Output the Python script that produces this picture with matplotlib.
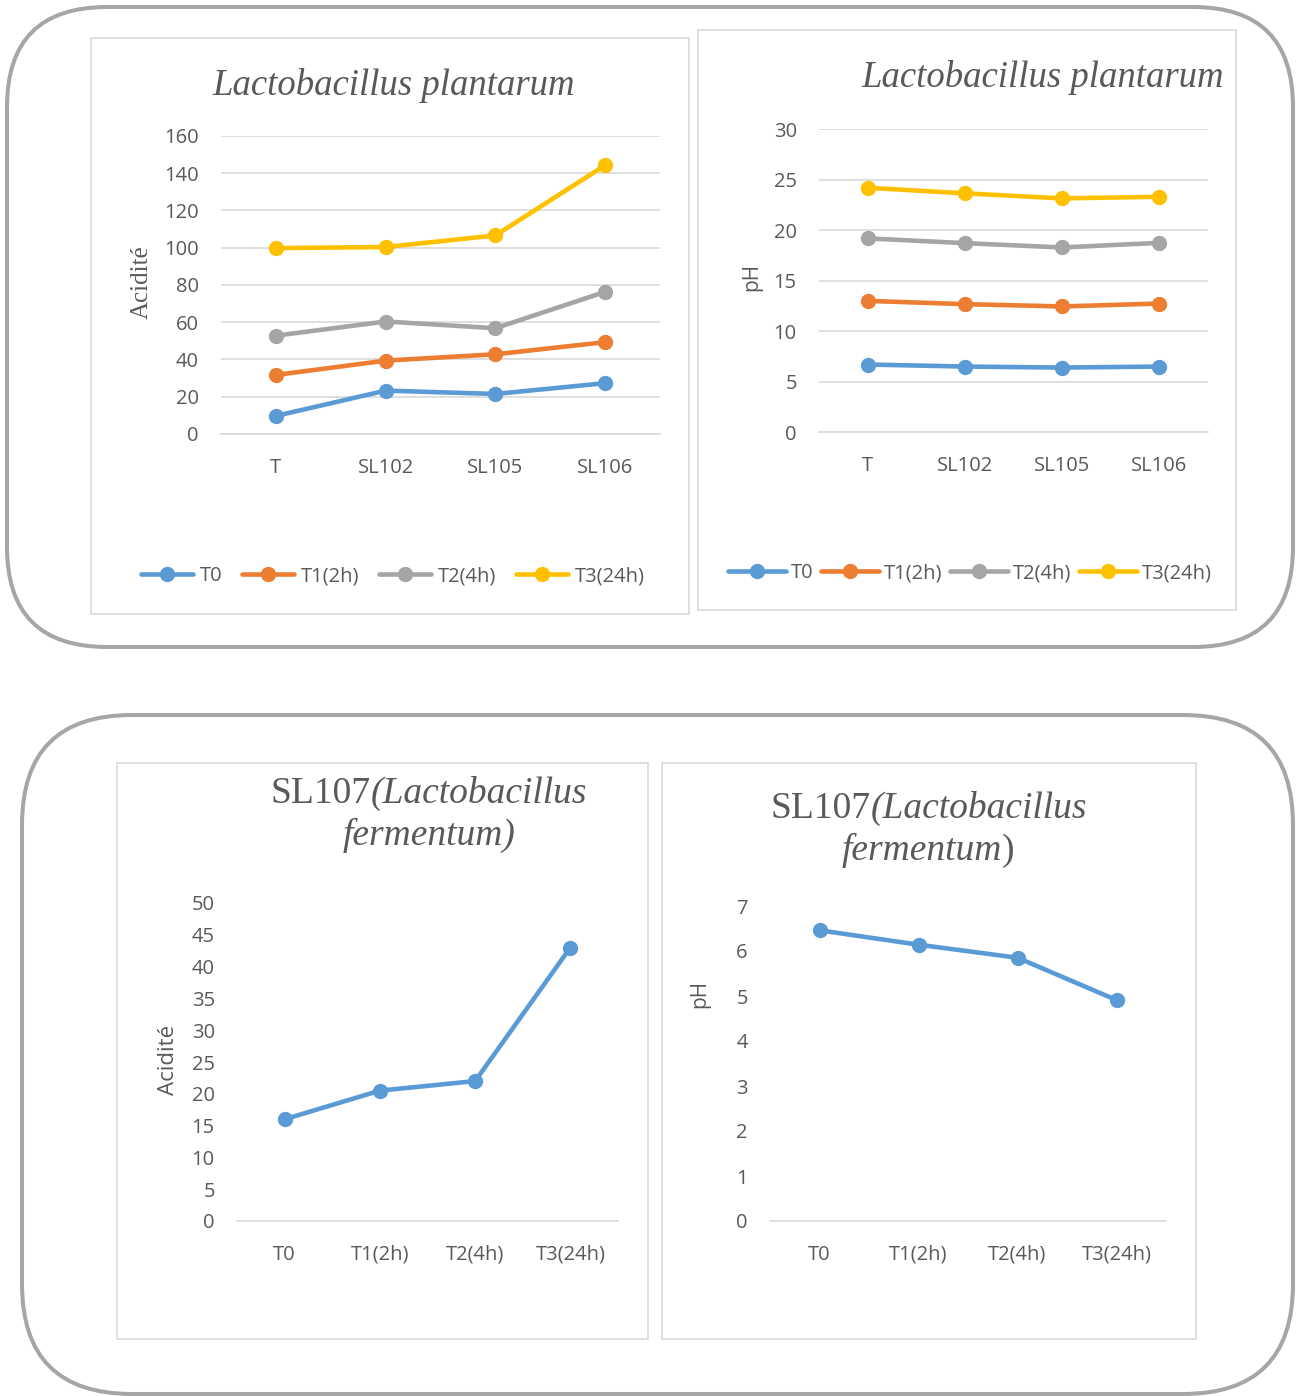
import numpy as np
import matplotlib
matplotlib.use('Agg')
import matplotlib.pyplot as plt
from matplotlib.patches import FancyBboxPatch, Rectangle

plt.rcParams['font.family'] = ['Open Sans', 'DejaVu Sans']

# data
strains = ['T', 'SL102', 'SL105', 'SL106']
series_names = ['T0', 'T1(2h)', 'T2(4h)', 'T3(24h)']
acid_T0 = [9.7, 23.3, 21.5, 27.3]
acid_T1 = [31.7, 39.4, 42.8, 49.3]
acid_T2 = [52.8, 60.4, 56.8, 76.3]
acid_T3 = [99.8, 100.4, 106.6, 144.3]
ph_T0 = [6.68, 6.48, 6.38, 6.48]
ph_T1 = [12.98, 12.66, 12.43, 12.72]
ph_T2 = [19.17, 18.70, 18.27, 18.73]
ph_T3 = [24.18, 23.63, 23.13, 23.29]

times = ['T0', 'T1(2h)', 'T2(4h)', 'T3(24h)']
sl107_acid = [16.0, 20.5, 22.0, 43.0]
sl107_ph = [6.46, 6.14, 5.85, 4.91]

colors = ['#5B9BD5', '#ED7D31', '#A5A5A5', '#FFC000']
TXT = '#595959'
GRID = '#D9D9D9'
TICK_FS = 14.5

W, H = 1298, 1396
fig = plt.figure(figsize=(W / 100, H / 100), dpi=100)
renderer = fig.canvas.get_renderer()

# background layer in pixel coords for the boxes and chart frames
bg = fig.add_axes([0, 0, 1, 1], zorder=0)
bg.set_xlim(0, W)
bg.set_ylim(H, 0)
bg.axis('off')
bg.add_patch(FancyBboxPatch((7, 7), 1286, 640, boxstyle='round,pad=0,rounding_size=100',
                            fc='none', ec='#A6A6A6', lw=2.9))
bg.add_patch(FancyBboxPatch((22, 715), 1271, 679, boxstyle='round,pad=0,rounding_size=110',
                            fc='none', ec='#A6A6A6', lw=2.9))
for (x0, y0, x1, y1) in [(91, 38, 689, 614), (698, 30, 1236, 610),
                         (117, 763, 648, 1339), (662, 763, 1196, 1339)]:
    bg.add_patch(Rectangle((x0, y0), x1 - x0, y1 - y0, fc='none', ec=GRID, lw=1.2))


def px_axes(x0, y0, x1, y1):
    ax = fig.add_axes([x0 / W, 1 - y1 / H, (x1 - x0) / W, (y1 - y0) / H], zorder=2)
    ax.patch.set_alpha(0)
    return ax


def style(ax, labels, ymax, step, grid=True):
    ax.set_xlim(-0.5, 3.5)
    ax.set_ylim(0, ymax)
    ax.set_xticks(range(len(labels)))
    ax.set_xticklabels(labels)
    ax.set_yticks(np.arange(0, ymax + step / 2, step))
    for s in ['top', 'right', 'left']:
        ax.spines[s].set_visible(False)
    ax.spines['bottom'].set_color(GRID)
    ax.spines['bottom'].set_linewidth(1.2)
    ax.tick_params(length=0, labelsize=TICK_FS, labelcolor=TXT)
    ax.tick_params(axis='y', pad=16)
    ax.tick_params(axis='x', pad=17)
    if grid:
        ax.yaxis.grid(True, color=GRID, lw=1.2)
        ax.set_axisbelow(True)


def draw(ax, vals, c):
    ax.plot(range(len(vals)), vals, color=c, lw=3.3, marker='o', ms=10,
            solid_capstyle='round', clip_on=False, zorder=3)


def rich_title(xc, ybase, pieces, fs=26.5):
    # pieces: list of (text, italic); placed on one baseline, centred at xc (pixels from top-left)
    texts = []
    x = 0
    for s, it in pieces:
        t = fig.text(x, H - ybase, s, transform=None, ha='left', va='baseline',
                     family='Liberation Serif', style='italic' if it else 'normal',
                     fontsize=fs, color=TXT)
        w = t.get_window_extent(renderer).width
        texts.append((t, x))
        x += w
    x0 = xc - x / 2
    for t, dx in texts:
        t.set_x(x0 + dx)


# chart 1: acidity, L. plantarum
ax1 = px_axes(221, 136, 660, 434)
style(ax1, strains, 160, 20)
for vals, c in zip([acid_T0, acid_T1, acid_T2, acid_T3], colors):
    draw(ax1, vals, c)
fig.legend(ax1.get_lines(), series_names, loc='center', bbox_to_anchor=(393 / W, 1 - 576 / H),
           ncol=4, frameon=False, fontsize=TICK_FS, labelcolor=TXT, handlelength=2.6,
           handletextpad=0.35, columnspacing=0.95, borderpad=0)
rich_title(394, 95, [('Lactobacillus plantarum', True)])
fig.text(142 / W, 1 - 282 / H, 'Acidité', rotation=90, ha='center', va='center',
         family='Liberation Serif', fontsize=18, color=TXT)

# chart 2: pH, L. plantarum
ax2 = px_axes(819, 129, 1208, 432)
style(ax2, strains, 30, 5)
for vals, c in zip([ph_T0, ph_T1, ph_T2, ph_T3], colors):
    draw(ax2, vals, c)
fig.legend(ax2.get_lines(), series_names, loc='center', bbox_to_anchor=(970 / W, 1 - 573 / H),
           ncol=4, frameon=False, fontsize=TICK_FS, labelcolor=TXT, handlelength=2.9,
           handletextpad=0.25, columnspacing=0.35, borderpad=0)
rich_title(1043, 87, [('Lactobacillus plantarum', True)])
fig.text(752 / W, 1 - 277 / H, 'pH', rotation=90, ha='center', va='center',
         fontsize=15, color=TXT)

# chart 3: acidity, SL107
ax3 = px_axes(237, 903, 618, 1221)
style(ax3, times, 50, 5, grid=False)
draw(ax3, sl107_acid, colors[0])
rich_title(429, 803, [('SL107', False), ('(Lactobacillus', True)], fs=27)
rich_title(429, 845, [('fermentum)', True)], fs=27)
fig.text(168 / W, 1 - 1060 / H, 'Acidité', rotation=90, ha='center', va='center',
         fontsize=16, color=TXT)

# chart 4: pH, SL107
ax4 = px_axes(770, 906, 1166, 1221)
style(ax4, times, 7, 1, grid=False)
draw(ax4, sl107_ph, colors[0])
rich_title(929, 818, [('SL107', False), ('(Lactobacillus', True)], fs=27)
rich_title(928, 860, [('fermentum', True), (')', False)], fs=27)
fig.text(700 / W, 1 - 994 / H, 'pH', rotation=90, ha='center', va='center',
         fontsize=15, color=TXT)

fig.savefig('out.png', dpi=100, facecolor='white')
